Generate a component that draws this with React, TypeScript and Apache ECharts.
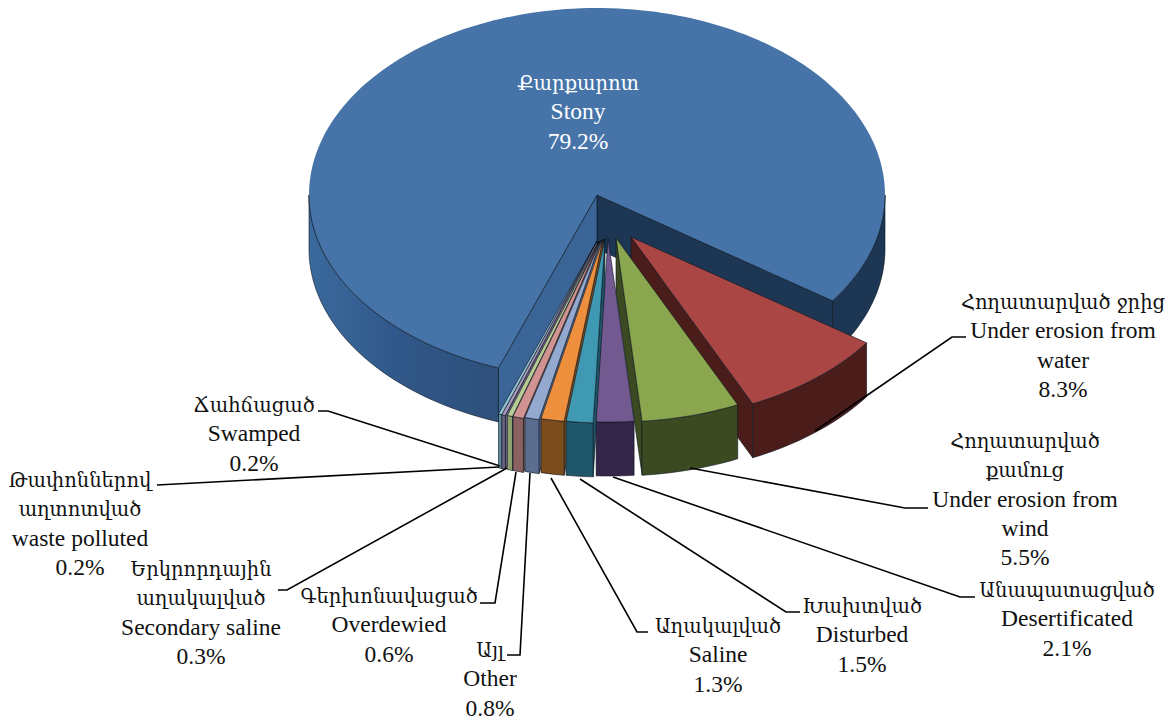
import React, { useEffect, useRef } from "react";
import * as echarts from "echarts";

const categories = ["Stony", "Under erosion from water", "Under erosion from wind", "Desertificated", "Disturbed", "Saline", "Other", "Overdewied", "Secondary saline", "waste polluted", "Swamped"];
const shares = [79.2, 8.3, 5.5, 2.1, 1.5, 1.3, 0.8, 0.6, 0.3, 0.2, 0.2];
const armenianLines = [["Քարքարոտ"], ["Հողատարված ջրից"], ["Հողատարված", "քամուց"], ["Անապատացված"], ["Խախտված"], ["Աղակալված"], ["Այլ"], ["Գերխոնավացած"], ["Երկրորդային", "աղակալված"], ["Թափոններով", "աղտոտված"], ["Ճահճացած"]];
const englishLines = [["Stony"], ["Under erosion from", "water"], ["Under erosion from", "wind"], ["Desertificated"], ["Disturbed"], ["Saline"], ["Other"], ["Overdewied"], ["Secondary saline"], ["waste polluted"], ["Swamped"]];

// layout and styling
const topColors = ["#4674a9", "#aa4744", "#8aa64f", "#72598f", "#4099b3", "#ee8f3e", "#93a9cf", "#d19392", "#b9cd96", "#a99bbd", "#92c3d4"];
const sideColors = ["#1c3654", "#4a1c1a", "#3c4a22", "#33264a", "#1f5669", "#7d4c1d", "#5b6e90", "#8a6060", "#8ea271", "#6f6385", "#5f8a99"];
const apexes = [[597, 195], [631, 237], [616, 238], [608, 238], [605, 239], [603, 239], [601, 240], [599.5, 241], [599, 241], [597, 241], [597, 241]];
const labelAnchors = [[578, 83], [1063, 302], [1025, 441], [1067, 590], [862, 606], [718, 626], [490, 650], [389, 596], [201, 569], [80, 480], [254, 405]];
const leaders = [null, [[815, 431], [952, 337], [966, 337]], [[690, 468], [905, 508], [928, 508]], [[613, 477], [960, 597], [975, 597]], [[580, 479], [786, 612], [800, 612]], [[551, 478], [637, 632], [648, 632]], [[530, 473], [520, 655], [507, 655]], [[516, 472], [495, 603], [480, 603]], [[507, 468], [287, 590], [278, 590]], [[499, 467], [157, 485], [157, 485]], [[500, 466], [328, 411], [318, 411]]];
const drawOrder = [0, 1, 2, 10, 9, 8, 7, 6, 5, 4, 3];
const RX = 288, RY_FAR = 187, RY_NEAR = 184, DEPTH = 54, START = 110;
const LINE = 29.3;
const rad = Math.PI / 180;

function arc(cx: number, cy: number, a0: number, a1: number) {
  const pts: number[][] = [];
  const n = Math.max(2, Math.ceil(Math.abs(a1 - a0) / 1.5));
  for (let i = 0; i <= n; i++) {
    const a = (a0 + ((a1 - a0) * i) / n) * rad;
    const s = Math.sin(a);
    pts.push([cx + RX * Math.cos(a), cy + (s > 0 ? RY_NEAR : RY_FAR) * s]);
  }
  return pts;
}

const edge = { stroke: "rgba(10,20,30,0.75)", lineWidth: 0.8 };

function renderItem(_: any, api: any) {
  const idx = api.value(0);
  const a0 = api.value(1);
  const a1 = a0 + (api.value(2) / 100) * 360;
  const [cx, cy] = apexes[idx];
  const side = sideColors[idx];
  const children: any[] = [];
  const poly = (points: number[][], fill: any) => children.push({ type: "polygon", shape: { points }, style: { fill, ...edge } });
  const band = (rim: number[][]) => [...rim, ...rim.slice().reverse().map((p) => [p[0], p[1] + DEPTH])];
  const cut = (a: number, fill: any) => {
    const [tip] = arc(cx, cy, a, a + 1);
    poly([[cx, cy], tip, [tip[0], tip[1] + DEPTH], [cx, cy + DEPTH]], fill);
  };
  if (idx === 0) {
    cut(a1, side);
    cut(a0, "#3a6596");
    poly(band(arc(cx, cy, a0, 180)), new echarts.graphic.LinearGradient(1, 0, 0, 0, [{ offset: 0, color: "#2e507a" }, { offset: 0.55, color: "#31588a" }, { offset: 1, color: "#3b6a9d" }]));
    poly(band(arc(cx, cy, 360, a1)), side);
    children.push({ type: "polygon", shape: { points: [[cx, cy], ...arc(cx, cy, a0, a1)] }, style: { fill: topColors[0], stroke: "none" } });
    children.push({ type: "polyline", shape: { points: arc(cx, cy, a0, 180) }, style: { fill: "none", ...edge } });
    children.push({ type: "polyline", shape: { points: [...arc(cx, cy, 360, a1), [cx, cy], arc(cx, cy, a0, a0 + 1)[0]] }, style: { fill: "none", ...edge } });
  } else {
    if (a1 % 360 < 90) cut(a1, side);
    if (a0 % 360 > 90) cut(a0, side);
    poly(band(arc(cx, cy, a0, a1)), side);
    poly([[cx, cy], ...arc(cx, cy, a0, a1)], topColors[idx]);
  }
  return { type: "group", children };
}

function buildGraphics() {
  const els: any[] = [];
  leaders.forEach((pts) => {
    if (pts) els.push({ type: "polyline", z: 5, shape: { points: pts }, style: { stroke: "#000", lineWidth: 1.6, fill: "none" } });
  });
  categories.forEach((_, i) => {
    const [x, y0] = labelAnchors[i];
    const color = i === 0 ? "#ffffff" : "#111111";
    const lines = [
      ...armenianLines[i].map((t) => ({ t, font: '"DejaVu Serif"', size: 19.5, dy: 0 })),
      ...englishLines[i].map((t) => ({ t, font: '"Liberation Serif"', size: 23.5, dy: -1 })),
      { t: shares[i].toFixed(1) + "%", font: '"Liberation Serif"', size: 23.5, dy: -1 },
    ];
    lines.forEach((l, k) => {
      els.push({
        type: "text", z: 6, x, y: y0 + k * LINE + l.dy,
        style: { text: l.t, fontFamily: l.font, fontSize: l.size, fill: color, align: "center", verticalAlign: "middle" },
      });
    });
  });
  return els;
}

export default function App() {
  const ref = useRef<HTMLDivElement>(null);
  useEffect(() => {
    const chart = echarts.init(ref.current!, null, { renderer: "svg" });
    const starts: number[] = [];
    let acc = START;
    shares.forEach((v) => { starts.push(acc); acc += (v / 100) * 360; });
    const rows = drawOrder.map((i) => [i, starts[i], shares[i]]);
    chart.setOption({
      animation: false,
      backgroundColor: "#ffffff",
      series: [{ type: "custom", coordinateSystem: "none", silent: true, renderItem, data: rows }],
      graphic: buildGraphics(),
    });
    return () => chart.dispose();
  }, []);
  return <div ref={ref} style={{ position: "fixed", left: 0, top: 0, width: 1171, height: 721 }} />;
}
